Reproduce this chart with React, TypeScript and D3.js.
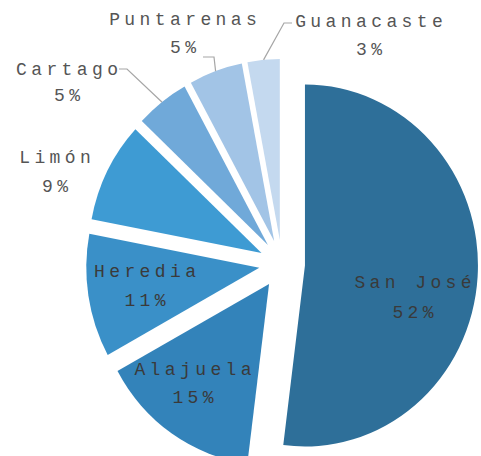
import React from "react";
import * as d3 from "d3";

// ---- data ----
const provinces: string[] = ["San José", "Alajuela", "Heredia", "Limón", "Cartago", "Puntarenas", "Guanacaste"];
const shares: number[] = [52, 15, 11, 9, 5, 5, 3];
const shareLabels: string[] = ["52%", "15%", "11%", "9%", "5%", "5%", "3%"];

// ---- style / layout ----
const colors = ["#2e6f99", "#3383ba", "#3a90c8", "#3e9bd3", "#70a9d9", "#a2c4e6", "#c4d9ef"];
const W = 481;
const H = 456;
const CX = 282;
const CY = 264;
const RX = 173;
const SY = 1.046;
const EXPLODE = 23;

// label anchor positions (centre x, baseline y of first line)
const labelPos: Record<string, { x: number; y: number; y2: number; inside: boolean; leader?: [number, number][] }> = {
  "San José": { x: 413, y: 288, y2: 318, inside: true },
  "Alajuela": { x: 193, y: 375, y2: 403, inside: true },
  "Heredia": { x: 145, y: 277, y2: 306, inside: true },
  "Limón": { x: 55, y: 163, y2: 192, inside: false },
  "Cartago": { x: 67, y: 75, y2: 101, inside: false, leader: [[127, 69], [119, 69]] },
  "Puntarenas": { x: 183, y: 25, y2: 53, inside: false, leader: [[214, 57], [203, 57]] },
  "Guanacaste": { x: 369, y: 27, y2: 55, inside: false, leader: [[284, 23], [292, 23]] },
};

const FONT = "'Liberation Mono', 'Courier New', monospace";
const FS = 18;
const LS = 4.4;

export default function App() {
  const pie = d3
    .pie<number>()
    .sort(null)
    .value((d) => d)
    .startAngle(0)
    .endAngle(2 * Math.PI);
  const arcs = pie(shares);
  const arc = d3.arc<d3.PieArcDatum<number>>().innerRadius(0).outerRadius(RX);

  const toScreen = (ux: number, uy: number): [number, number] => [CX + ux, CY + uy * SY];

  return (
    <svg
      width={W}
      height={H}
      viewBox={`0 0 ${W} ${H}`}
      style={{ position: "absolute", left: 0, top: 0, background: "#fff" }}
    >
      <g transform={`translate(${CX},${CY}) scale(1,${SY})`}>
        {arcs.map((a, i) => {
          const mid = (a.startAngle + a.endAngle) / 2;
          const dx = EXPLODE * Math.sin(mid);
          const dy = -EXPLODE * Math.cos(mid);
          return (
            <path
              key={provinces[i]}
              d={arc(a) || ""}
              transform={`translate(${dx},${dy})`}
              fill={colors[i]}
            />
          );
        })}
      </g>
      {arcs.map((a, i) => {
        const name = provinces[i];
        const lp = labelPos[name];
        if (!lp.leader) return null;
        const mid = (a.startAngle + a.endAngle) / 2;
        const r = EXPLODE + RX;
        const p0 = toScreen(r * Math.sin(mid), -r * Math.cos(mid));
        const pts: [number, number][] = [p0, ...lp.leader];
        const line = d3.line();
        return <path key={"l" + name} d={line(pts) || ""} fill="none" stroke="#a6a6a6" strokeWidth={1.2} />;
      })}
      {arcs.map((a, i) => {
        const name = provinces[i];
        const lp = labelPos[name];
        const fill = lp.inside ? "#3a3a3a" : "#555555";
        return (
          <g key={"t" + name} fontFamily={FONT} fontSize={FS} fill={fill} textAnchor="middle" style={{ letterSpacing: `${LS}px` }}>
            <text x={lp.x + LS / 2} y={lp.y}>{name}</text>
            <text x={lp.x + LS / 2} y={lp.y2}>{shareLabels[i]}</text>
          </g>
        );
      })}
    </svg>
  );
}
